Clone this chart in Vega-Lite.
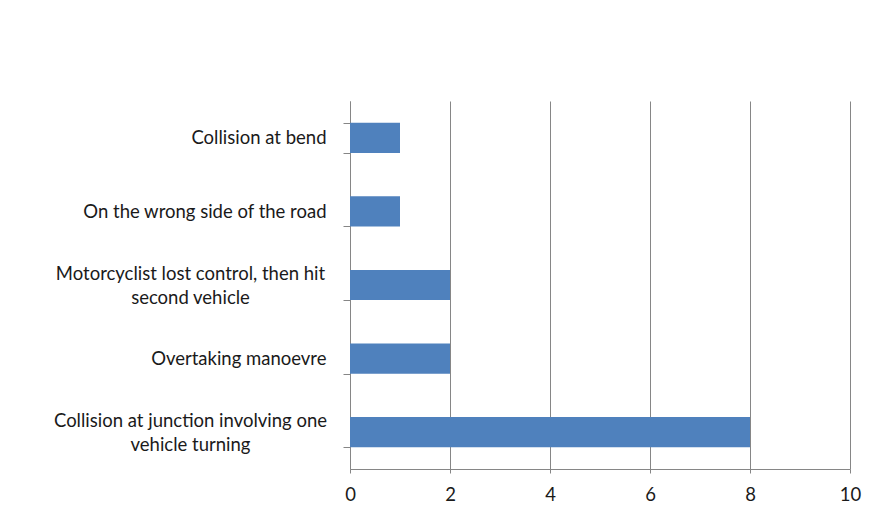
{
  "$schema": "https://vega.github.io/schema/vega-lite/v6.json",
  "width": 500,
  "height": 368,
  "autosize": "none",
  "padding": {"left": 350, "top": 101, "right": 22, "bottom": 44},
  "background": "white",
  "data": {
    "values": [
      {"cause": "Collision at bend", "count": 1},
      {"cause": "On the wrong side of the road", "count": 1},
      {"cause": "Motorcyclist lost control, then hit second vehicle", "count": 2},
      {"cause": "Overtaking manoevre", "count": 2},
      {"cause": "Collision at junction involving one vehicle turning", "count": 8}
    ]
  },
  "config": {
    "view": {"stroke": null},
    "font": "Lato",
    "axis": {
      "labelFont": "Lato",
      "labelFontSize": 18.5,
      "labelColor": "#1a1a1a",
      "domainColor": "#868686",
      "tickColor": "#868686",
      "gridColor": "#868686",
      "gridOpacity": 1,
      "domainWidth": 1,
      "tickWidth": 1,
      "gridWidth": 1
    }
  },
  "mark": {"type": "bar", "color": "#4F81BD"},
  "encoding": {
    "y": {
      "field": "cause",
      "type": "nominal",
      "sort": null,
      "title": null,
      "scale": {"paddingInner": 0.59, "paddingOuter": 0.295},
      "axis": {
        "tickBand": "extent",
        "tickSize": 7,
        "grid": false,
        "labelLimit": 400,
        "labelLineHeight": 24,
        "labelAlign": {"condition": {"test": "length(datum.label) > 30", "value": "center"}, "value": "right"},
        "labelPadding": {"condition": {"test": "length(datum.label) > 30", "value": 153}, "value": 17},
        "labelOffset": {"condition": {"test": "length(datum.label) > 30", "value": -12}, "value": 0},
        "labelExpr": "datum.label == 'Motorcyclist lost control, then hit second vehicle' ? ['Motorcyclist lost control, then hit', 'second vehicle'] : datum.label == 'Collision at junction involving one vehicle turning' ? ['Collision at junction involving one', 'vehicle turning'] : datum.label"
      }
    },
    "x": {
      "field": "count",
      "type": "quantitative",
      "title": null,
      "scale": {"domain": [0, 10]},
      "axis": {
        "values": [0, 2, 4, 6, 8, 10],
        "grid": true,
        "tickSize": 4,
        "labelPadding": 12,
        "labelFlush": false
      }
    }
  }
}
